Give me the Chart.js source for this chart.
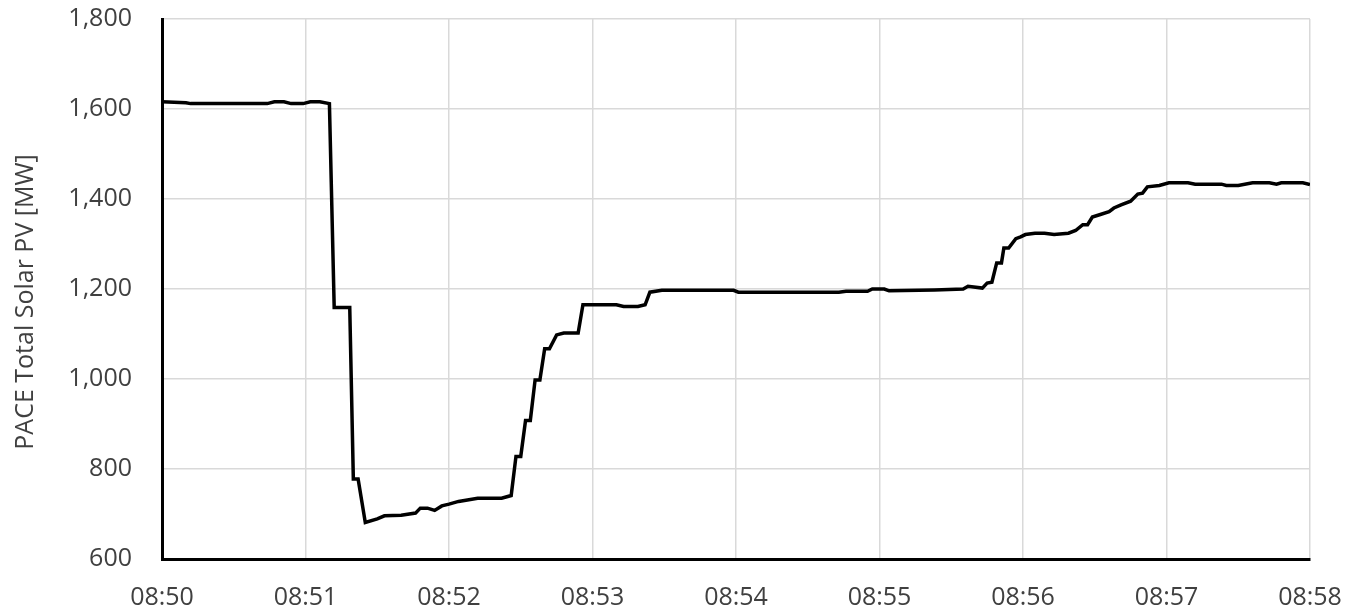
<!DOCTYPE html>
<html>
<head>
<meta charset="utf-8">
<script src="https://cdn.jsdelivr.net/npm/chart.js@4/dist/chart.umd.min.js"></script>
<style>
  html, body { margin: 0; padding: 0; background: #ffffff; }
  #wrap { width: 1355px; height: 612px; position: relative; }
</style>
</head>
<body>
<div id="wrap"><canvas id="c"></canvas></div>
<script>
// Time tick labels (one per minute, 08:50 .. 08:58)
const tickLabels = ['08:50', '08:51', '08:52', '08:53', '08:54', '08:55', '08:56', '08:57', '08:58'];

// Sample times, seconds after 08:50:00
const sampleSeconds = [
  0, 10, 12, 44, 47, 51, 54, 59, 62, 66, 70,
  72, 78.5, 80, 82, 85, 90, 93, 100, 106, 108, 111, 114, 117, 120, 124, 132,
  142, 146, 148, 150, 152, 154, 156, 158, 160, 162, 165, 168, 174, 176,
  190, 193, 199, 202, 204, 209, 239, 241, 283, 286, 295, 297, 302, 304,
  323, 335, 337, 343, 345, 347, 349, 351, 352, 354, 357, 359, 361, 365,
  369, 373, 379, 382, 385, 387, 389, 392, 396, 398, 401, 405, 408, 410,
  412, 417, 421, 429, 432, 443, 445, 450, 456, 463, 466, 468, 477, 480
];

// PACE total solar PV output, MW
const pvMW = [
  1616, 1614, 1612, 1612, 1616, 1616, 1612, 1612, 1616, 1616, 1612,
  1159, 1159, 778, 778, 681, 689, 696, 697, 702, 713, 713, 708, 718, 722, 728, 735,
  735, 741, 828, 828, 908, 908, 998, 998, 1067, 1067, 1098, 1102, 1102, 1165,
  1165, 1161, 1161, 1165, 1193, 1197, 1197, 1193, 1193, 1195, 1195, 1200, 1200, 1196,
  1198, 1200, 1206, 1202, 1213, 1215, 1258, 1258, 1291, 1291, 1312, 1316, 1321, 1324,
  1324, 1321, 1324, 1330, 1343, 1343, 1360, 1365, 1372, 1380, 1387, 1395, 1411, 1413,
  1427, 1430, 1436, 1436, 1433, 1433, 1430, 1430, 1436, 1436, 1433, 1436, 1436, 1432
];

// Y tick values
const yTicks = [600, 800, 1000, 1200, 1400, 1600, 1800];

const points = sampleSeconds.map((s, i) => ({ x: s, y: pvMW[i] }));

const FONT = '"Open Sans", "Noto Sans", sans-serif';
const TEXT = '#404040';
const GRID = '#d9d9d9';

new Chart(document.getElementById('c'), {
  type: 'line',
  data: {
    datasets: [{
      label: 'PACE Total Solar PV',
      data: points,
      borderColor: '#000000',
      borderWidth: 3.5,
      pointRadius: 0,
      tension: 0,
      fill: false
    }]
  },
  options: {
    responsive: true,
    maintainAspectRatio: false,
    animation: false,
    layout: { padding: { left: 0, right: 45, top: 19, bottom: 0 } },
    plugins: { legend: { display: false }, tooltip: { enabled: false } },
    scales: {
      x: {
        type: 'linear',
        min: 0,
        max: (tickLabels.length - 1) * 60,
        afterFit: (s) => { s.height = 53; s.paddingLeft = 0; s.paddingRight = 0; },
        afterBuildTicks: (s) => { s.ticks = tickLabels.map((_, i) => ({ value: i * 60 })); },
        ticks: {
          autoSkip: false,
          maxRotation: 0,
          padding: 24,
          color: TEXT,
          font: { family: FONT, size: 25 },
          callback: (v) => tickLabels[Math.round(v / 60)]
        },
        grid: { color: GRID, lineWidth: 1.5, drawTicks: false },
        border: { display: true, color: '#000000', width: 3 }
      },
      y: {
        min: yTicks[0],
        max: yTicks[yTicks.length - 1],
        afterFit: (s) => { s.width = 162; s.paddingTop = 0; s.paddingBottom = 0; },
        afterBuildTicks: (s) => { s.ticks = yTicks.map(v => ({ value: v })); },
        ticks: {
          padding: 30,
          color: TEXT,
          font: { family: FONT, size: 25 },
          callback: (v) => v.toLocaleString('en-US')
        },
        grid: { color: GRID, lineWidth: 1.5, drawTicks: false },
        border: { display: true, color: '#000000', width: 3 },
        title: {
          display: true,
          text: 'PACE Total Solar PV [MW]    ',
          color: TEXT,
          font: { family: FONT, size: 25 },
          padding: { top: 11, bottom: 0 }
        }
      }
    }
  }
});
</script>
</body>
</html>
